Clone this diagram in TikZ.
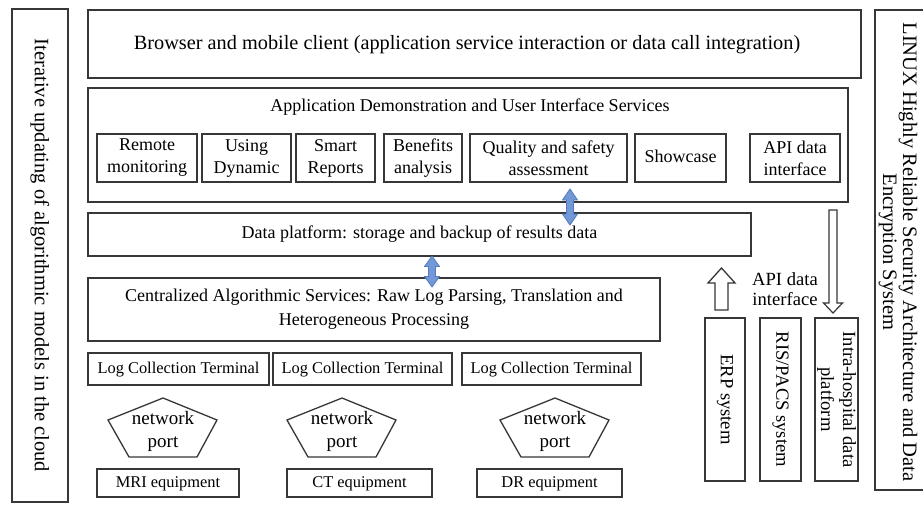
\documentclass[tikz,border=0pt]{standalone}
\usepackage{fontspec}
\setmainfont{Liberation Serif}
\newcommand\fsz[2]{\fontsize{#1}{#2}\selectfont}
\definecolor{ln}{RGB}{55,55,55}
\definecolor{arfill}{RGB}{114,152,216}
\definecolor{ardraw}{RGB}{86,122,192}
\tikzset{
 box/.style={draw=ln, line width=1.3pt, inner sep=2pt, align=center, font=\fsz{18}{22}},
 oneline/.style={text height=0.9em, text depth=0.1em},
 small/.style={font=\fsz{16.4}{20}},
 txt/.style={inner sep=0pt, align=center, font=\fsz{18}{22}},
 vbox/.style={box, rotate=-90, font=\fsz{18.6}{22}},
 bluearrow/.style={draw=ardraw, fill=arfill, line width=0.8pt},
 hollowarrow/.style={draw=ln, fill=white, line width=1.3pt},
 penta/.style={draw=ln, line width=1.3pt, line join=miter},
}
\begin{document}
\begin{tikzpicture}[x=1pt,y=-1pt]
\useasboundingbox (0,0) rectangle (923,514);
\fill[white] (0,0) rectangle (923,514);

% side panels
\node[vbox, minimum width=493, minimum height=56, font=\fsz{20.5}{22}] (left) at (40,255.5)
  {Iterative updating of algorithmic models in the cloud};
\node[box, minimum width=62, minimum height=480] (right) at (906,250) {};
\node[txt, rotate=-90, font=\fsz{20.5}{20}] (righttxt) at (898,252)
  {LINUX Highly Reliable Security Architecture and Data\\Encryption System};

% top layer
\node[box, minimum width=773, minimum height=68] (client) at (474.5,44) {};
\node[txt, oneline, font=\fsz{20.3}{24}] (clienttxt) at (467,45)
  {Browser and mobile client (application service interaction or data call integration)};

% application layer
\node[box, minimum width=760, minimum height=114] (app) at (468,145) {};
\node[txt, oneline] (apptitle) at (470,107) {Application Demonstration and User Interface Services};
\node[box, minimum width=100, minimum height=48] (rm) at (147,158) {Remote\\monitoring};
\node[box, minimum width=89, minimum height=48] (ud) at (246.5,158) {Using\\Dynamic};
\node[box, minimum width=79, minimum height=48] (sr) at (335.5,158) {Smart\\Reports};
\node[box, minimum width=78, minimum height=48] (ba) at (423,158) {Benefits\\analysis};
\node[box, minimum width=157, minimum height=48] (qs) at (548.5,158) {Quality and safety\\assessment};
\node[box, oneline, minimum width=91, minimum height=48] (sc) at (680.5,158) {Showcase};
\node[box, minimum width=90, minimum height=48] (api) at (795,158) {API data\\interface};

% data platform
\node[box, oneline, minimum width=663, minimum height=43] (data) at (419.5,234.5)
  {Data platform: storage and backup of results data};

% centralized services
\node[box, minimum width=572, minimum height=63, font=\fsz{18}{24}] (central) at (374,309.5)
  {Centralized Algorithmic Services: Raw Log Parsing, Translation and\\Heterogeneous Processing};

% log collection terminals
\node[box, small, oneline, minimum width=181, minimum height=32] (lc1) at (178.5,369) {Log Collection Terminal};
\node[box, small, oneline, minimum width=179, minimum height=32] (lc2) at (362.5,369) {Log Collection Terminal};
\node[box, small, oneline, minimum width=179, minimum height=32] (lc3) at (551.5,369) {Log Collection Terminal};

% network ports
\foreach \n/\cx in {np1/163, np2/342, np3/555}{
  \node[txt, font=\fsz{19}{23}] (\n) at (\cx,431) {network\\port};
  \draw[penta, shift={(\n.center)}] (0,-33) -- (54,-11) -- (34,26) -- (-34,26) -- (-55,-11) -- cycle;
}

% equipment
\node[box, small, oneline, minimum width=142, minimum height=28] (mri) at (168,483) {MRI equipment};
\node[box, small, oneline, minimum width=145, minimum height=28] (ct) at (359.5,483) {CT equipment};
\node[box, small, oneline, minimum width=145, minimum height=28] (dr) at (549.5,483) {DR equipment};

% external systems
\node[vbox, minimum width=163, minimum height=40] (erp) at (725,399.5) {ERP system};
\node[vbox, minimum width=163, minimum height=41] (ris) at (780.5,399.5) {RIS/PACS system};
\node[vbox, minimum width=163, minimum height=41] (intra) at (836.5,399.5) {Intra-hospital data\\platform};
\node[txt, font=\fsz{18.6}{20.5}] (apilbl) at (785,289) {API data\\interface};

% blue double arrows
\coordinate (a1) at (570,207);
\draw[bluearrow, shift={(a1)}] (0,-18) -- (7.5,-7) -- (3.5,-7) -- (3.5,7) -- (7.5,7) -- (0,18)
  -- (-7.5,7) -- (-3.5,7) -- (-3.5,-7) -- (-7.5,-7) -- cycle;
\coordinate (a2) at (432,271.5);
\draw[bluearrow, shift={(a2)}] (0,-15.5) -- (7.5,-5) -- (3.5,-5) -- (3.5,5) -- (7.5,5) -- (0,15.5)
  -- (-7.5,5) -- (-3.5,5) -- (-3.5,-5) -- (-7.5,-5) -- cycle;

% hollow arrows
\coordinate (up) at (721.5,268);
\draw[hollowarrow, shift={(up)}] (0,0) -- (13.5,15) -- (6.5,15) -- (6.5,42) -- (-6.5,42) -- (-6.5,15) -- (-13.5,15) -- cycle;
\coordinate (dn) at (833,313);
\draw[hollowarrow, line width=1.2pt, shift={(dn)}] (0,0) -- (9.5,-10) -- (4,-10) -- (4,-103) -- (-4,-103) -- (-4,-10) -- (-9.5,-10) -- cycle;

\end{tikzpicture}
\end{document}
